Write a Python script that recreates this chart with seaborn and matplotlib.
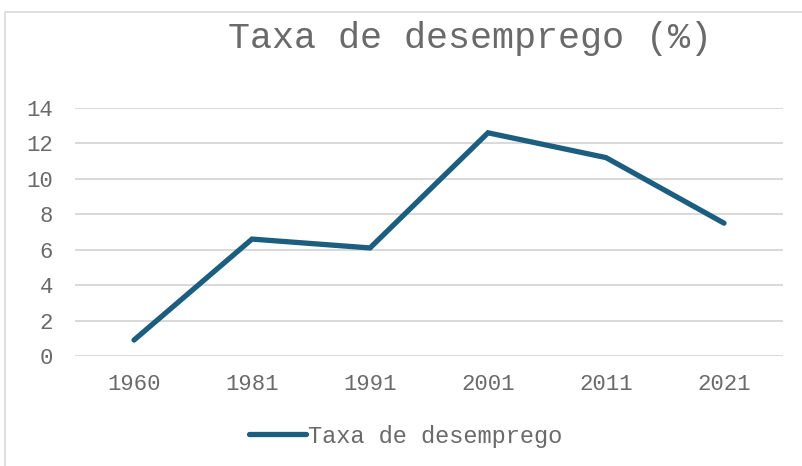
import matplotlib.pyplot as plt
import matplotlib.patches as patches
import seaborn as sns
import pandas as pd

years = ["1960", "1981", "1991", "2001", "2011", "2021"]
taxa = [0.9, 6.6, 6.1, 12.6, 11.2, 7.5]
y_ticks = [0, 2, 4, 6, 8, 10, 12, 14]

df = pd.DataFrame({"pos": range(len(years)), "taxa": taxa})

sns.set_theme(style="white")
plt.rcParams["font.family"] = ["Liberation Mono", "DejaVu Sans Mono"]

text_color = "#6A6A6A"
line_color = "#1B5E7F"
grid_color = "#D9D9D9"

W, H = 802, 466
fig = plt.figure(figsize=(W / 100, H / 100), dpi=100)
ax = fig.add_axes([75 / W, 1 - 356 / H, 708 / W, 248 / H])

sns.lineplot(data=df, x="pos", y="taxa", ax=ax, color=line_color,
             linewidth=3.8, solid_capstyle="round", solid_joinstyle="miter",
             label="Taxa de desemprego", zorder=3)

ax.set_xlim(-0.5, len(years) - 0.5)
ax.set_ylim(0, 14)
ax.set_xticks(range(len(years)))
ax.set_xticklabels(years)
ax.set_yticks(y_ticks)
ax.set_xlabel("")
ax.set_ylabel("")

for y in y_ticks:
    ax.axhline(y, color=grid_color, linewidth=1.4, zorder=1)

for s in ax.spines.values():
    s.set_visible(False)

ax.tick_params(axis="both", length=0, labelsize=16, labelcolor=text_color)
ax.tick_params(axis="y", pad=16)
ax.tick_params(axis="x", pad=13)

ax.legend(loc="center", bbox_to_anchor=(406 / W, 1 - 436 / H),
          bbox_transform=fig.transFigure, frameon=False, fontsize=17,
          handlelength=2.4, handletextpad=0.1, labelcolor=text_color)

fig.text(470 / W, 1 - 38 / H, "Taxa de desemprego (%)", ha="center", va="center",
         fontsize=26.5, color=text_color)

fig.patches.append(patches.Rectangle((5 / W, -0.1), 1.2, (H - 12) / H + 0.1,
                                     transform=fig.transFigure, fill=False,
                                     edgecolor=grid_color, linewidth=1.2))

fig.savefig("out.png", dpi=100)
